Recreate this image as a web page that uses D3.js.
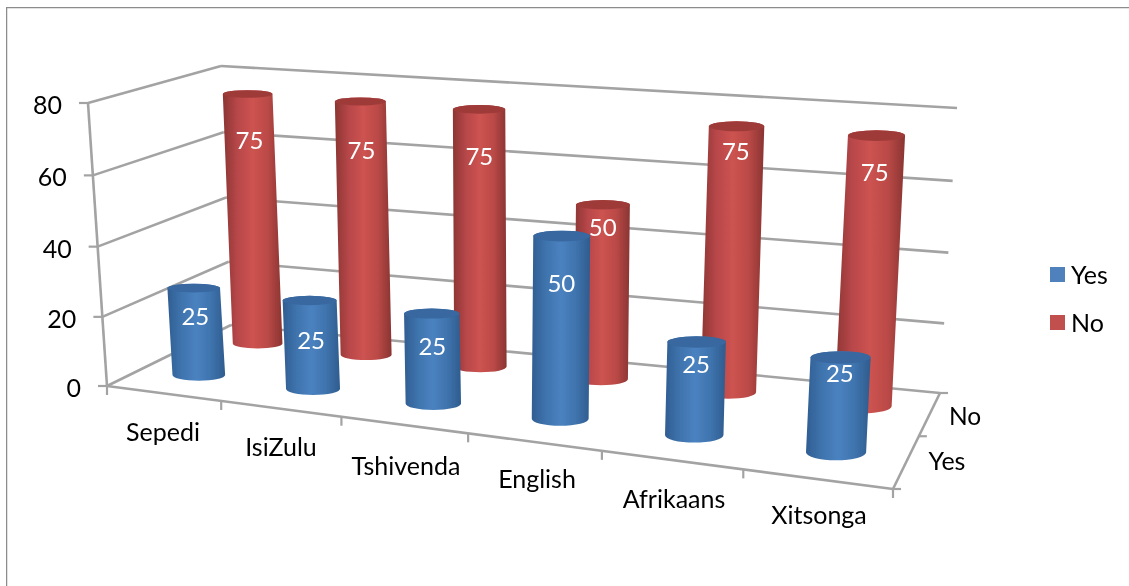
<!DOCTYPE html>
<html><head><meta charset="utf-8">
<script src="https://cdn.jsdelivr.net/npm/d3@7"></script>
<style>html,body{margin:0;background:#fff}svg{display:block}text{font-family:Lato,"Open Sans",sans-serif}</style>
</head><body><div id="c"></div>
<script>
// data
const categories = ["Sepedi","IsiZulu","Tshivenda","English","Afrikaans","Xitsonga"];
const seriesNames = ["Yes","No"];
const yesValues = [25,25,25,50,25,25];
const noValues = [75,75,75,50,75,75];
const valueTicks = [0,20,40,60,80];

// layout: chart box corners (front/back, bottom/top, left/right), in pixels
const W=1129,H=586;
const box={fbl:[107,386],fbr:[893,489],bbl:[231,325],bbr:[940,393],
           ftl:[88,103],ftr:[915,174],btl:[221,66],btr:[957,108]};
const xWarp=0.85, zWarp=1.22, gridWarp=0.97;
const warp=(t,a)=>a*t/(1+(a-1)*t);
const x=d3.scaleBand().domain(categories).range([0,1]);
const z=d3.scaleBand().domain(seriesNames).range([0,1]);
const y=d3.scaleLinear().domain([0,80]).range([0,1]);
const lerp=(a,b,t)=>[a[0]+(b[0]-a[0])*t,a[1]+(b[1]-a[1])*t];
function project(u,v,h){
  const U=warp(u,xWarp),V=warp(v,zWarp);
  const bot=lerp(lerp(box.fbl,box.fbr,U),lerp(box.bbl,box.bbr,U),V);
  const top=lerp(lerp(box.ftl,box.ftr,U),lerp(box.btl,box.btr,U),V);
  return lerp(bot,top,h);
}
const colours={Yes:{side:["#305e92","#3f74ae","#4a82c0","#3f74ae","#2f5c8e"],top:"#38689f",key:"#4f81bd"},
               No:{side:["#8c3533","#b8474a","#cd5350","#bb4a47","#8a3432"],top:"#9e3b39",key:"#c0504d"}};
const gridColor="#a3a3a3";
const labelDrops={Yes:[27,39,32,46,21,15],No:[45,48,46,22,24,36]};
const svg=d3.select("#c").append("svg").attr("width",W).attr("height",H);
const defs=svg.append("defs");
defs.append("filter").attr("id","soft").attr("x",0).attr("y",0).attr("width",1).attr("height",1)
  .append("feGaussianBlur").attr("stdDeviation",0.45);
seriesNames.forEach(s=>{
  const g=defs.append("linearGradient").attr("id","g"+s);
  colours[s].side.forEach((c,i,a)=>g.append("stop").attr("offset",i/(a.length-1)).attr("stop-color",c));
});
const root=svg.append("g").attr("filter","url(#soft)");
// frame
root.append("path").attr("d",`M6.5,${H} V7.5 H${W}`).attr("fill","none").attr("stroke","#8c8c8c").attr("stroke-width",1.5);

const line=(a,b,sw=2.6)=>root.append("line").attr("x1",a[0]).attr("y1",a[1]).attr("x2",b[0]).attr("y2",b[1]).attr("stroke",gridColor).attr("stroke-width",sw);
const txt=(p,s,size,anchor,fill="#000")=>root.append("text").attr("x",p[0]).attr("y",p[1]).attr("font-size",size).attr("text-anchor",anchor).attr("dominant-baseline","central").attr("fill",fill).text(s);
// walls and gridlines
valueTicks.forEach(t=>{
  const h=warp(y(t),gridWarp),a=project(0,0,h),b=project(0,1,h),c=project(1,1,h);
  line(a,b);line(b,c);
  line([a[0]-9,a[1]],a,2.2);
  txt([a[0]-26,a[1]+1],t,25,"end");
});
line(project(0,0,0),project(0,0,1));
line(project(0,0,0),project(1,0,0));
line(project(1,0,0),project(1,1,0));
// ticks
d3.range(categories.length+1).forEach(i=>{
  const p=project(i/categories.length,0,0);
  line(p,[p[0],p[1]+9],2.2);
});
[0,.5,1].forEach(v=>{const p=project(1,v,0);line(p,[p[0]+8,p[1]],2.2);});
// cylinders
const halfW=(s,u)=>(s==="Yes"?26:24.5)+4.5*warp(u,xWarp);
function cylinder(s,cat,val,drop){
  const u=x(cat)+x.bandwidth()/2, v=z(s)+z.bandwidth()/2;
  const nudge=0.5+2.5*warp(u,xWarp);
  const base=project(u,v,0), top=project(u,v,y(val));
  base[0]+=nudge+.5; top[0]+=nudge-.3;
  const rx=halfW(s,u), ry=rx*(s==="Yes"?.16+.05*u:.15+.04*u);
  const g=root.append("g");
  g.append("path").attr("fill",`url(#g${s})`)
   .attr("d",`M${top[0]-rx},${top[1]} L${base[0]-rx},${base[1]} A${rx},${ry*1.3} 0 0 0 ${base[0]+rx},${base[1]} L${top[0]+rx},${top[1]} A${rx},${ry} 0 0 0 ${top[0]-rx},${top[1]} Z`);
  g.append("ellipse").attr("cx",top[0]).attr("cy",top[1]).attr("rx",rx).attr("ry",ry).attr("fill",colours[s].top);
  const t=drop/(base[1]-top[1]);
  txt(lerp(top,base,t),val,24,"middle","#fff");
}
["No","Yes"].forEach(s=>{
  const vals=s==="Yes"?yesValues:noValues;
  categories.forEach((c,i)=>cylinder(s,c,vals[i],labelDrops[s][i]));
});
// category labels
const catLabelPos=[[163,431],[281,446],[406,465],[537,478],[674,498],[819,514]];
categories.forEach((c,i)=>txt(catLabelPos[i],c,25,"middle"));
// depth labels
txt([965,415],"No",24.5,"middle");
txt([947,460],"Yes",25,"middle");
// legend
seriesNames.forEach((s,i)=>{
  const yy=274+48*i;
  root.append("rect").attr("x",1050).attr("y",yy-7).attr("width",15).attr("height",15).attr("fill",colours[s].key);
  txt([1071,yy],s,25,"start");
});
</script></body></html>
